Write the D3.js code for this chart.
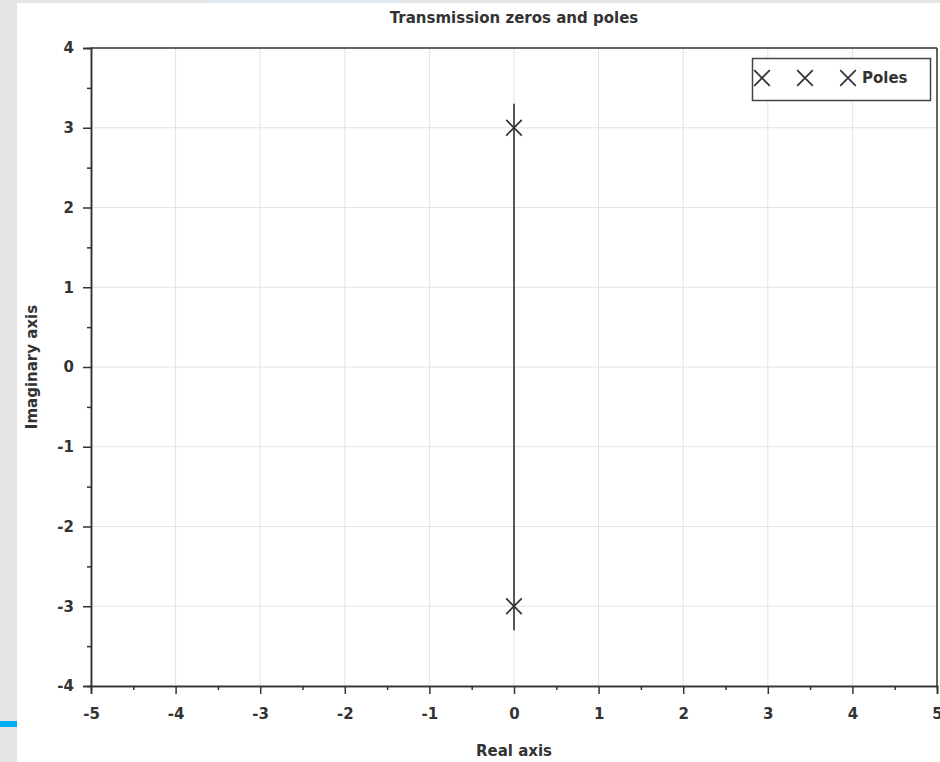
<!DOCTYPE html>
<html>
<head>
<meta charset="utf-8">
<script src="https://cdn.jsdelivr.net/npm/d3@7"></script>
<style>
  html, body { margin: 0; padding: 0; background: #ffffff; }
  svg { display: block; }
  text { font-family: "DejaVu Sans", sans-serif; font-weight: bold; fill: #333; }
</style>
</head>
<body>
<script>
// Pole locations of the system (real and imaginary parts)
const poleRe = [0, 0];
const poleIm = [3, -3];

// Segment drawn along the imaginary axis through the poles
const segRe = [0, 0];
const segIm = [-3.3, 3.3];

// Axis ticks
const xTicks = [-5, -4, -3, -2, -1, 0, 1, 2, 3, 4, 5];
const yTicks = [-4, -3, -2, -1, 0, 1, 2, 3, 4];
const xMinor = [-4.5, -3.5, -2.5, -1.5, -0.5, 0.5, 1.5, 2.5, 3.5, 4.5];
const yMinor = [-3.5, -2.5, -1.5, -0.5, 0.5, 1.5, 2.5, 3.5];

const titleText = "Transmission zeros and poles";
const xLabel = "Real axis";
const yLabel = "Imaginary axis";
const legendLabel = "Poles";

const W = 940, H = 762;
const svg = d3.select("body").append("svg").attr("width", W).attr("height", H);

// page frame around the figure
svg.append("rect").attr("x", 0).attr("y", 0).attr("width", 17).attr("height", H).attr("fill", "#e5e5e5");
svg.append("rect").attr("x", 0).attr("y", 0).attr("width", W).attr("height", 3).attr("fill", "#e5e5e5");
svg.append("rect").attr("x", 205).attr("y", 0).attr("width", 195).attr("height", 3).attr("fill", "#dfe9ee");
svg.append("rect").attr("x", 0).attr("y", 721).attr("width", 17).attr("height", 6).attr("fill", "#00aeef");

const x = d3.scaleLinear().domain([-5, 5]).range([91, 937]);
const y = d3.scaleLinear().domain([-4, 4]).range([686, 48]);

// grid
const grid = svg.append("g").attr("stroke", "#e3e3e3").attr("stroke-width", 1);
grid.selectAll("line.gx").data(xTicks).join("line")
  .attr("x1", d => x(d)).attr("x2", d => x(d))
  .attr("y1", y(-4)).attr("y2", y(4));
grid.selectAll("line.gy").data(yTicks).join("line")
  .attr("x1", x(-5)).attr("x2", x(5))
  .attr("y1", d => y(d)).attr("y2", d => y(d));

// frame: top and right borders
svg.append("line").attr("x1", x(-5)).attr("x2", x(5)).attr("y1", y(4)).attr("y2", y(4))
  .attr("stroke", "#333").attr("stroke-width", 1.5);
svg.append("line").attr("x1", x(5)).attr("x2", x(5)).attr("y1", y(4)).attr("y2", y(-4))
  .attr("stroke", "#333").attr("stroke-width", 1.5);

// axes (plain hyphen for negative labels)
const fmt = d => String(d);
const xAxis = svg.append("g").attr("transform", `translate(0,${y(-4)})`)
  .call(d3.axisBottom(x).tickValues(xTicks).tickFormat(fmt).tickSize(8).tickPadding(14));
const xAxisMinor = svg.append("g").attr("transform", `translate(0,${y(-4)})`)
  .call(d3.axisBottom(x).tickValues(xMinor).tickFormat("").tickSize(4));
const yAxis = svg.append("g").attr("transform", `translate(${x(-5)},0)`)
  .call(d3.axisLeft(y).tickValues(yTicks).tickFormat(fmt).tickSize(8).tickPadding(9));
const yAxisMinor = svg.append("g").attr("transform", `translate(${x(-5)},0)`)
  .call(d3.axisLeft(y).tickValues(yMinor).tickFormat("").tickSize(4));

[xAxis, xAxisMinor, yAxis, yAxisMinor].forEach(g => {
  g.select(".domain").attr("stroke", "#333").attr("stroke-width", 1.5);
  g.selectAll(".tick line").attr("stroke", "#333").attr("stroke-width", 1.5);
  g.selectAll(".tick text").attr("font-size", 15).attr("font-weight", "bold")
    .attr("fill", "#555").attr("font-family", "DejaVu Sans, sans-serif");
});

// segment through the poles
const line = d3.line().x(d => x(d[0])).y(d => y(d[1]));
svg.append("path").datum(d3.zip(segRe, segIm)).attr("d", line)
  .attr("fill", "none").attr("stroke", "#222").attr("stroke-width", 1.5);

// pole markers
const cross = d3.symbol().type(d3.symbolTimes).size(160);
svg.selectAll("path.pole").data(d3.zip(poleRe, poleIm)).join("path")
  .attr("class", "pole")
  .attr("d", cross)
  .attr("transform", d => `translate(${x(d[0])},${y(d[1])})`)
  .attr("fill", "none").attr("stroke", "#333").attr("stroke-width", 1.7);

// legend
const lg = svg.append("g");
lg.append("rect").attr("x", 752.5).attr("y", 58.5).attr("width", 178).attr("height", 42)
  .attr("fill", "#fff").attr("stroke", "#444").attr("stroke-width", 1.5);
lg.selectAll("path").data([762, 805, 848]).join("path")
  .attr("d", cross)
  .attr("transform", d => `translate(${d},78)`)
  .attr("fill", "none").attr("stroke", "#333").attr("stroke-width", 1.7);
lg.append("text").attr("x", 862).attr("y", 83).attr("font-size", 15)
  .attr("fill", "#333").text(legendLabel);

// title and axis labels
svg.append("text").attr("x", 514).attr("y", 23).attr("text-anchor", "middle")
  .attr("font-size", 15).attr("fill", "#333").text(titleText);
svg.append("text").attr("x", 514).attr("y", 756).attr("text-anchor", "middle")
  .attr("font-size", 15).attr("fill", "#333").text(xLabel);
svg.append("text").attr("transform", "translate(37,367) rotate(-90)").attr("text-anchor", "middle")
  .attr("font-size", 15).attr("fill", "#333").text(yLabel);
</script>
</body>
</html>
